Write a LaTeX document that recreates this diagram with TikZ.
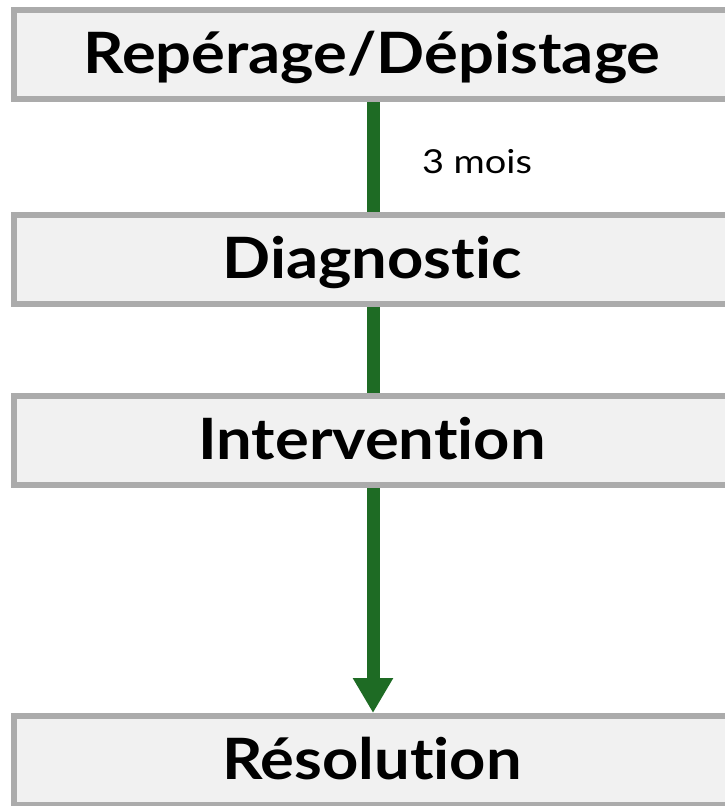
\documentclass[tikz,border=0pt]{standalone}
\usepackage{fontspec}
\setmainfont[Ligatures=NoCommon]{Lato}
\newfontfamily\stagefont[Ligatures=NoCommon,FakeStretch=1.11]{Lato}
\newfontfamily\notefont[Ligatures=NoCommon,FakeStretch=1.15]{Lato}
\usetikzlibrary{arrows.meta,backgrounds}
\definecolor{boxfill}{HTML}{F1F1F1}
\definecolor{boxline}{HTML}{ABABAB}
\definecolor{flowgreen}{HTML}{1E6B24}
\tikzset{
  stage/.style={draw=boxline, fill=boxfill, line width=6pt, inner sep=0pt,
    minimum width=716pt, minimum height=89pt, text height=50pt, text depth=12pt,
    font=\stagefont\fontsize{57}{60}\selectfont\bfseries},
  flow/.style={draw=flowgreen, line width=13pt},
  flowarrow/.style={flow, -{Triangle[width=38pt,length=35pt]}, fill=flowgreen},
  note/.style={font=\notefont\fontsize{33}{36}\selectfont, inner sep=0pt, anchor=base}
}
\begin{document}
\begin{tikzpicture}[x=1pt,y=-1pt]
  \useasboundingbox (0,0) rectangle (725,806);
  \clip (0,0) rectangle (725,806);
  \node[stage] (rep) at (372,54.5) {Repérage/Dépistage};
  \node[stage] (diag) at (372,259) {Diagnostic};
  \node[stage] (interv) at (372,440) {Intervention};
  \node[stage] (res) at (372,760.5) {Résolution};
  \node[note] (delai) at (477,173) {3 mois};
  \begin{scope}[on background layer]
    \draw[flow] ([xshift=1pt]rep.south) -- ([xshift=1pt]diag.north);
    \draw[flow] ([xshift=1pt]diag.south) -- ([xshift=1pt]interv.north);
    \draw[flowarrow] ([xshift=1pt]interv.south) -- ([xshift=1pt]res.north);
  \end{scope}
\end{tikzpicture}
\end{document}
